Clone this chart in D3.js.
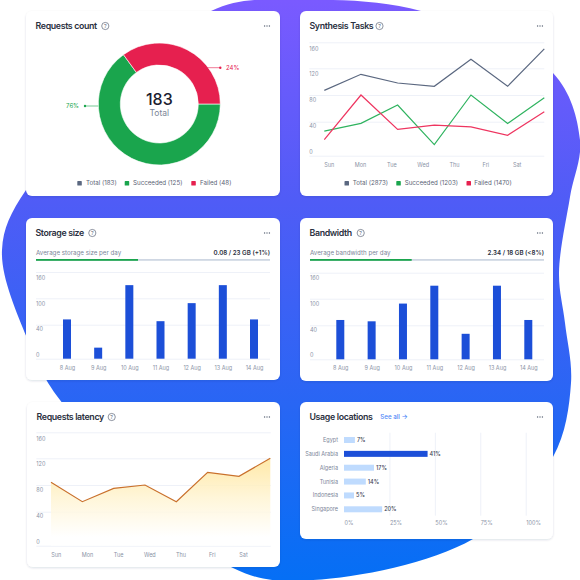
<!DOCTYPE html>
<html>
<head>
<meta charset="utf-8">
<style>
  html, body { margin: 0; padding: 0; background: #fff; }
  svg { display: block; }
  text { font-family: Inter, "Noto Sans", sans-serif; }
  .axis path.domain { display: none; }
  .grid line { stroke: #eef1f8; stroke-width: 1; }
  .labels line { display: none; }
  .labels text { font-size: 5.5px; fill: #8a93a6; font-family: Inter, sans-serif; }
</style>
<script src="https://cdn.jsdelivr.net/npm/d3@7"></script>
</head>
<body>
<div id="chart"></div>
<script>
'use strict';

// Requests count
var donutNames = ['Succeeded', 'Failed'];
var donutShares = [65, 35];
var donutLabels = ['76%', '24%'];
var donutLegend = ['Total (183)', 'Succeeded (125)', 'Failed (48)'];

// Synthesis tasks
var weekDays = ['Sun', 'Mon', 'Tue', 'Wed', 'Thu', 'Fri', 'Sat'];
var tasksTotal = [87, 111, 98, 93, 134, 93, 150];
var tasksSucceeded = [29, 38, 65, 13, 80, 38, 76];
var tasksFailed = [19, 80, 31, 36, 34, 24, 55];
var tasksLegend = ['Total (2873)', 'Succeeded (1203)', 'Failed (1470)'];
var lineTicks = [0, 40, 80, 120, 160];

// Storage size and bandwidth
var dayLabels = ['8 Aug', '9 Aug', '10 Aug', '11 Aug', '12 Aug', '13 Aug', '14 Aug'];
var storageValues = [52, 13, 130, 48, 89, 130, 52];
var bandwidthValues = [52, 49, 89, 130, 30, 130, 52];
var barTicks = [0, 40, 100, 160];

// Requests latency
var latencyValues = [84, 55, 75, 80, 55, 99, 93, 120];

// Usage locations
var countries = ['Egypt', 'Saudi Arabia', 'Algeria', 'Tunisia', 'Indonesia', 'Singapore'];
var countryBars = [6, 46, 16.5, 12, 5.5, 21];
var countryLabels = ['7%', '41%', '17%', '14%', '5%', '20%'];
var percentTicks = [0, 25, 50, 75, 100];

// backdrop shape behind the cards
var blobOutline = [
  [211, 11], [300, 0], [421, 11], [553, 73], [580, 140], [570, 197], [559, 273],
  [565, 323], [571, 383], [553, 457], [473, 539], [313, 580], [233, 568],
  [60, 400], [27, 338], [2, 250], [26, 190]
];

var COLORS = { total: '#5b6880', green: '#1aa54d', red: '#e6204f', blue: '#1c4fd8', light: '#bfdbfe' };

var svg = d3.select('#chart').append('svg').attr('width', 580).attr('height', 580);
var defs = svg.append('defs');

var blobGradient = defs.append('linearGradient')
  .attr('id', 'blobFill')
  .attr('gradientUnits', 'userSpaceOnUse')
  .attr('x1', 0).attr('y1', 0).attr('x2', 0).attr('y2', 580);
blobGradient.append('stop').attr('offset', '0%').attr('stop-color', '#7a5aff');
blobGradient.append('stop').attr('offset', '35%').attr('stop-color', '#4f5cf6');
blobGradient.append('stop').attr('offset', '70%').attr('stop-color', '#2866f4');
blobGradient.append('stop').attr('offset', '100%').attr('stop-color', '#056ff5');

var areaGradient = defs.append('linearGradient')
  .attr('id', 'areaFill')
  .attr('gradientUnits', 'userSpaceOnUse')
  .attr('x1', 0).attr('y1', 458).attr('x2', 0).attr('y2', 537);
areaGradient.append('stop').attr('offset', '0%').attr('stop-color', '#ffe599');
areaGradient.append('stop').attr('offset', '50%').attr('stop-color', '#fff4d2');
areaGradient.append('stop').attr('offset', '100%').attr('stop-color', '#ffffff');

var shadow = defs.append('filter').attr('id', 'cardShadow')
  .attr('x', '-5%').attr('y', '-5%').attr('width', '110%').attr('height', '110%');
shadow.append('feDropShadow')
  .attr('dx', 0).attr('dy', 1).attr('stdDeviation', 1)
  .attr('flood-color', '#1c2a55').attr('flood-opacity', 0.14);

svg.append('path')
  .attr('d', d3.line().curve(d3.curveCatmullRomClosed.alpha(0.5))(blobOutline))
  .attr('fill', 'url(#blobFill)');

function drawCard(x, y, width, height, title, iconX) {
  var card = svg.append('g');
  card.append('rect')
    .attr('x', x).attr('y', y)
    .attr('width', width).attr('height', height)
    .attr('rx', 6)
    .attr('fill', '#fff')
    .attr('filter', 'url(#cardShadow)');

  card.append('text')
    .attr('x', x + 9.5).attr('y', y + 15)
    .attr('dy', '0.35em')
    .attr('font-size', 8.8)
    .attr('letter-spacing', -0.35)
    .attr('font-weight', 600)
    .attr('fill', '#2a3040')
    .text(title);

  if (iconX) {
    card.append('circle')
      .attr('cx', iconX).attr('cy', y + 15)
      .attr('r', 3.6)
      .attr('fill', 'none')
      .attr('stroke', '#5d6678')
      .attr('stroke-width', 0.7);
    card.append('text')
      .attr('x', iconX).attr('y', y + 15)
      .attr('dy', '0.36em')
      .attr('text-anchor', 'middle')
      .attr('font-size', 5.2)
      .attr('fill', '#5d6678')
      .text('?');
  }

  card.selectAll('circle.dot')
    .data([-2.4, 0, 2.4])
    .enter()
    .append('circle')
    .attr('class', 'dot')
    .attr('cx', function (d) { return x + width - 13 + d; })
    .attr('cy', y + 15)
    .attr('r', 0.7)
    .attr('fill', '#5d6678');

  return card;
}

function drawLegend(g, items, colors, squareXs, textXs, y) {
  items.forEach(function (item, i) {
    g.append('rect')
      .attr('x', squareXs[i]).attr('y', y - 2.2)
      .attr('width', 4.5).attr('height', 4.5)
      .attr('rx', 0.6)
      .attr('fill', colors[i]);
    g.append('text')
      .attr('x', textXs[i]).attr('y', y)
      .attr('dy', '0.35em')
      .attr('font-size', 6.2)
      .attr('fill', '#5a6375')
      .text(item);
  });
}

// gridlines come from the value scale, tick numbers from their own offset scale
function drawValueAxis(g, ticks, yScale, labelScale, x0, x1) {
  g.append('g')
    .attr('class', 'axis grid')
    .attr('transform', 'translate(' + x0 + ',0)')
    .call(d3.axisLeft(yScale).tickValues(ticks).tickSize(-(x1 - x0)).tickFormat(''));
  g.append('g')
    .attr('class', 'axis labels')
    .attr('transform', 'translate(' + x0 + ',0)')
    .call(d3.axisRight(labelScale).tickValues(ticks).tickSize(0).tickPadding(0));
}

function drawCategoryLabels(g, xScale, y) {
  g.append('g')
    .attr('class', 'axis labels')
    .attr('transform', 'translate(0,' + y + ')')
    .call(d3.axisBottom(xScale).tickSize(0).tickPadding(0))
    .selectAll('text')
    .attr('dy', '0.35em');
}

/* Requests count */
var donutCard = drawCard(26, 11, 254, 185, 'Requests count', 105.3);
var donutGroup = donutCard.append('g').attr('transform', 'translate(159.3,104)');
var pie = d3.pie().sort(null).startAngle(Math.PI / 2).endAngle(Math.PI * 2.5);
var arc = d3.arc().innerRadius(39).outerRadius(61);
var donutColor = d3.scaleOrdinal().domain(donutNames).range([COLORS.green, COLORS.red]);

donutGroup.selectAll('path')
  .data(pie(donutShares))
  .enter()
  .append('path')
  .attr('d', arc)
  .attr('fill', function (d, i) { return donutColor(donutNames[i]); })
  .attr('stroke', '#fff')
  .attr('stroke-width', 0.6);

donutGroup.append('text')
  .attr('y', -4.5).attr('dy', '0.35em')
  .attr('text-anchor', 'middle')
  .attr('font-size', 16)
  .attr('font-weight', 500)
  .attr('fill', '#1b2030')
  .text('183');
donutGroup.append('text')
  .attr('y', 9.5).attr('dy', '0.35em')
  .attr('text-anchor', 'middle')
  .attr('font-size', 8.5)
  .attr('fill', '#7b8598')
  .text('Total');

function drawLeader(x0, x1, y, textX, anchor, color, label) {
  donutCard.append('line')
    .attr('x1', x0).attr('x2', x1).attr('y1', y).attr('y2', y)
    .attr('stroke', color).attr('stroke-width', 0.6);
  donutCard.append('circle')
    .attr('cx', x1).attr('cy', y).attr('r', 1.2).attr('fill', color);
  donutCard.append('text')
    .attr('x', textX).attr('y', y)
    .attr('dy', '0.35em')
    .attr('text-anchor', anchor)
    .attr('font-size', 6)
    .attr('fill', color)
    .text(label);
}
drawLeader(98.3, 85, 106, 79, 'end', COLORS.green, donutLabels[0]);
drawLeader(207, 220.3, 67.7, 226, 'start', COLORS.red, donutLabels[1]);

drawLegend(donutCard, donutLegend, [COLORS.total, COLORS.green, COLORS.red],
  [77.3, 124.7, 191.3], [86, 133, 200], 183.3);

/* Synthesis tasks */
var tasksCard = drawCard(300, 11, 253, 185, 'Synthesis Tasks', 379.5);
var tasksY = d3.scaleLinear().domain(lineTicks).range([155.7, 121.7, 95, 68.3, 42.3]);
var tasksLabelY = d3.scaleLinear().domain([0, 160]).range([151.7, 48.3]);
var tasksX = d3.scalePoint().domain(weekDays).range([324.3, 544.3]);
var tasksLabelX = d3.scalePoint().domain(weekDays).range([328.7, 516.7]);

drawValueAxis(tasksCard, lineTicks, tasksY, tasksLabelY, 309.3, 544.3);
drawCategoryLabels(tasksCard, tasksLabelX, 165.3);

var tasksLine = d3.line()
  .x(function (d, i) { return tasksX(weekDays[i]); })
  .y(function (d) { return tasksY(d); });

[[tasksTotal, COLORS.total], [tasksSucceeded, '#2fb35f'], [tasksFailed, '#ee3560']].forEach(function (s) {
  tasksCard.append('path')
    .attr('d', tasksLine(s[0]))
    .attr('fill', 'none')
    .attr('stroke', s[1])
    .attr('stroke-width', 1.2);
});

drawLegend(tasksCard, tasksLegend, [COLORS.total, COLORS.green, COLORS.red],
  [344.5, 396.3, 466.5], [352.7, 404.7, 474.3], 183.3);

/* Storage size and bandwidth */
function drawBarCard(opts) {
  var card = drawCard(opts.x, 218, opts.width, opts.height, opts.title, opts.iconX);
  var left = opts.x + 10;
  var right = opts.right;

  card.append('text')
    .attr('x', left).attr('y', 252.7).attr('dy', '0.35em')
    .attr('font-size', 6.2)
    .attr('fill', '#7b8598')
    .text(opts.caption);
  card.append('text')
    .attr('x', right).attr('y', 252.7).attr('dy', '0.35em')
    .attr('text-anchor', 'end')
    .attr('font-size', 6.2)
    .attr('font-weight', 600)
    .attr('fill', '#2a3040')
    .text(opts.usage);

  card.append('rect')
    .attr('x', left).attr('y', 259)
    .attr('width', right - left).attr('height', 1.8)
    .attr('fill', '#cfd7e3');
  card.append('rect')
    .attr('x', left).attr('y', 259)
    .attr('width', opts.progress - left).attr('height', 1.8)
    .attr('fill', COLORS.green);

  var y = d3.scaleLinear().domain(barTicks).range(opts.gridY);
  var labelY = d3.scaleLinear().domain([0, 160]).range(opts.labelY);
  var x = d3.scalePoint().domain(dayLabels).range(opts.barRange);

  drawValueAxis(card, barTicks, y, d3.scaleOrdinal().domain(barTicks).range(barTicks.map(function (t) {
    // tick numbers sit at even steps, not on the gridlines
    return labelY(barTicks.indexOf(t) / 3 * 160);
  })), left, right);
  drawCategoryLabels(card, x, 368.3);

  card.selectAll('rect.bar')
    .data(opts.values)
    .enter()
    .append('rect')
    .attr('class', 'bar')
    .attr('x', function (d, i) { return x(dayLabels[i]) - 4; })
    .attr('y', function (d) { return y(d); })
    .attr('width', 8)
    .attr('height', function (d) { return y(0) - y(d); })
    .attr('fill', COLORS.blue);
}

drawBarCard({
  x: 26, width: 254, height: 162, title: 'Storage size', iconX: 92.3,
  caption: 'Average storage size per day', usage: '0.08 / 23 GB (+1%)',
  right: 270, progress: 138, values: storageValues,
  gridY: [358.7, 324.7, 298.3, 272], labelY: [354.7, 277.7], barRange: [67, 254]
});
drawBarCard({
  x: 300, width: 253, height: 163, title: 'Bandwidth', iconX: 360.7,
  caption: 'Average bandwidth per day', usage: '2.34 / 18 GB (<8%)',
  right: 544, progress: 411.7, values: bandwidthValues,
  gridY: [359.3, 325.3, 298.7, 272.7], labelY: [355, 278], barRange: [340.3, 528.3]
});

/* Requests latency */
var latencyCard = drawCard(27, 402, 253, 165, 'Requests latency', 111.7);
var latencyY = d3.scaleLinear().domain(lineTicks).range([545.7, 511.7, 485, 458.3, 432.3]);
var latencyLabelY = d3.scaleLinear().domain([0, 160]).range([541.3, 438.3]);
var latencyX = d3.scaleLinear().domain([0, latencyValues.length - 1]).range([51, 270.3]);
var latencyLabelX = d3.scalePoint().domain(weekDays).range([55.7, 243]);

drawValueAxis(latencyCard, lineTicks, latencyY, latencyLabelY, 36.3, 270.7);
drawCategoryLabels(latencyCard, latencyLabelX, 555.3);

latencyCard.append('path')
  .attr('d', d3.area()
    .x(function (d, i) { return latencyX(i); })
    .y0(latencyY(0))
    .y1(function (d) { return latencyY(d); })(latencyValues))
  .attr('fill', 'url(#areaFill)')
  .attr('fill-opacity', 0.85);
latencyCard.append('path')
  .attr('d', d3.line()
    .x(function (d, i) { return latencyX(i); })
    .y(function (d) { return latencyY(d); })(latencyValues))
  .attr('fill', 'none')
  .attr('stroke', '#c9702c')
  .attr('stroke-width', 1.2);

/* Usage locations */
var usageCard = drawCard(300, 402, 253, 137, 'Usage locations');
var usageX = d3.scaleLinear().domain([0, 100]).range([344, 525.7]);
var usageY = d3.scalePoint().domain(countries).range([440, 509.3]);

usageCard.append('text')
  .attr('x', 380.3).attr('y', 416.7).attr('dy', '0.35em')
  .attr('font-size', 6.2)
  .attr('font-weight', 500)
  .attr('fill', '#4d86f7')
  .text('See all');
usageCard.append('text')
  .attr('x', 401.5).attr('y', 416.7).attr('dy', '0.35em')
  .attr('font-size', 6.6)
  .attr('font-weight', 500)
  .attr('fill', '#4d86f7')
  .text('→');

usageCard.append('g')
  .attr('class', 'axis grid')
  .attr('transform', 'translate(0,515.7)')
  .call(d3.axisBottom(usageX).tickValues(percentTicks.slice(1)).tickSize(-83).tickFormat(''));

usageCard.append('g')
  .attr('class', 'axis labels')
  .attr('transform', 'translate(0,523.3)')
  .call(d3.axisBottom(usageX).tickValues(percentTicks).tickSize(0).tickPadding(0)
    .tickFormat(function (d) { return d + '%'; }))
  .selectAll('text')
  .attr('dy', '0.35em')
  .attr('text-anchor', 'start');

usageCard.selectAll('rect.bar')
  .data(countryBars)
  .enter()
  .append('rect')
  .attr('class', 'bar')
  .attr('x', usageX(0))
  .attr('y', function (d, i) { return usageY(countries[i]) - 3; })
  .attr('width', function (d) { return usageX(d) - usageX(0); })
  .attr('height', 6)
  .attr('fill', function (d, i) { return i === 1 ? COLORS.blue : COLORS.light; });

usageCard.selectAll('text.country')
  .data(countries)
  .enter()
  .append('text')
  .attr('class', 'country')
  .attr('x', 338)
  .attr('y', function (d) { return usageY(d); })
  .attr('dy', '0.35em')
  .attr('text-anchor', 'end')
  .attr('font-size', 5.5)
  .attr('fill', '#7b8598')
  .text(function (d) { return d; });

usageCard.selectAll('text.share')
  .data(countryLabels)
  .enter()
  .append('text')
  .attr('class', 'share')
  .attr('x', function (d, i) { return usageX(countryBars[i]) + 2; })
  .attr('y', function (d, i) { return usageY(countries[i]); })
  .attr('dy', '0.35em')
  .attr('font-size', 5.5)
  .attr('font-weight', 500)
  .attr('fill', '#3d4556')
  .text(function (d) { return d; });
</script>
</body>
</html>
